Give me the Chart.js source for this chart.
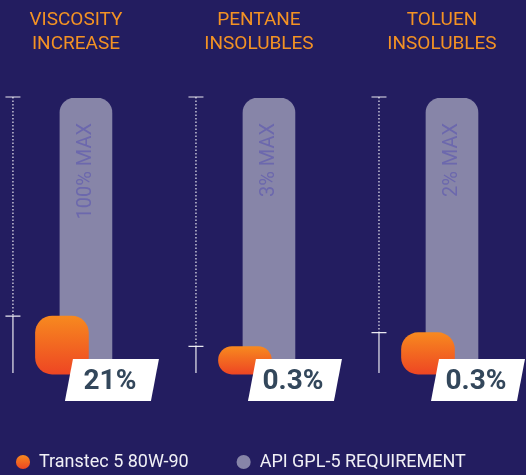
<!DOCTYPE html>
<html>
<head>
<meta charset="utf-8">
<script src="https://cdn.jsdelivr.net/npm/chart.js@4.4.1/dist/chart.umd.min.js"></script>
<style>
    html, body { margin: 0; padding: 0; background: #231d60; }
    #wrap { width: 526px; height: 475px; }
</style>
</head>
<body>
<div id="wrap"><canvas id="chart"></canvas></div>
<script>
// --- Data ---
const TITLES = [['VISCOSITY', 'INCREASE'], ['PENTANE', 'INSOLUBLES'], ['TOLUEN', 'INSOLUBLES']];
const TRANSTEC = [21, 0.3, 0.3];          // measured value, %
const API_MAX = [100, 3, 2];              // API GPL-5 limit, %
const VALUE_LABELS = ['21%', '0.3%', '0.3%'];
const MAX_LABELS = ['100% MAX', '3% MAX', '2% MAX'];
const SERIES = ['Transtec 5 80W-90', 'API GPL-5 REQUIREMENT'];

// bars are drawn as share of each limit
const transtecPct = TRANSTEC.map((v, i) => ({ x: i, y: v / API_MAX[i] * 100 }));
const limitPct = API_MAX.map((m, i) => ({ x: i, y: 100 }));

const ORANGE_TOP = '#f7891f';
const ORANGE_BOTTOM = '#ee4623';
const GREY = '#8785a8';

Chart.defaults.font.family = 'Roboto';

function orangeFill(context) {
    const chart = context.chart;
    const y = chart.scales.y;
    if (!chart.chartArea || !y || context.type !== 'data') return ORANGE_BOTTOM;
    const top = y.getPixelForValue(context.parsed.y);
    const base = y.getPixelForValue(0);
    const g = chart.ctx.createLinearGradient(0, top, 0, base);
    g.addColorStop(0, ORANGE_TOP);
    g.addColorStop(1, ORANGE_BOTTOM);
    return g;
}

// shift each dataset sideways so the two bars overlap
const shiftPlugin = {
    id: 'shift',
    beforeDatasetDraw(chart, args) {
        const dx = chart.data.datasets[args.index].shiftX || 0;
        chart.ctx.save();
        chart.ctx.translate(dx, 0);
    },
    afterDatasetDraw(chart) {
        chart.ctx.restore();
    },
};

// titles, brackets, "MAX" captions and value tags
const decorPlugin = {
    id: 'decor',
    afterDatasetsDraw(chart) {
        const { ctx, scales: { x, y } } = chart;
        const top = y.getPixelForValue(100);
        const base = y.getPixelForValue(0);
        TRANSTEC.forEach((v, i) => {
            const cx = x.getPixelForValue(i);
            const valY = y.getPixelForValue(transtecPct[i].y);

            // panel title
            ctx.save();
            ctx.fillStyle = '#f39224';
            ctx.font = '19px Roboto';
            ctx.textAlign = 'center';
            ctx.textBaseline = 'middle';
            TITLES[i].forEach((line, k) => ctx.fillText(line, cx + 2, 20 + k * 24));
            ctx.restore();

            // bracket
            const bx = cx - 61;
            ctx.save();
            ctx.strokeStyle = 'rgba(255,255,255,0.9)';
            ctx.lineWidth = 1.2;
            ctx.beginPath();
            ctx.moveTo(bx - 7.5, top - 1); ctx.lineTo(bx + 7.5, top - 1);
            ctx.moveTo(bx - 7.5, valY); ctx.lineTo(bx + 7.5, valY);
            ctx.moveTo(bx, valY); ctx.lineTo(bx, base - 1);
            ctx.stroke();
            ctx.setLineDash([1.5, 2]);
            ctx.beginPath();
            ctx.moveTo(bx, top - 1); ctx.lineTo(bx, valY);
            ctx.stroke();
            ctx.restore();

            // rotated MAX caption inside the grey bar
            ctx.save();
            ctx.translate(cx + 12, top + 25);
            ctx.rotate(-Math.PI / 2);
            ctx.fillStyle = '#6c68ad';
            ctx.font = '20px Roboto';
            ctx.textAlign = 'right';
            ctx.textBaseline = 'middle';
            ctx.fillText(MAX_LABELS[i], 0, 0);
            ctx.restore();

            // value tag
            const lx = cx + 38;
            const t = base - 15, b = base + 27;
            ctx.save();
            ctx.fillStyle = '#ffffff';
            ctx.beginPath();
            ctx.moveTo(lx - 39, t); ctx.lineTo(lx + 47, t);
            ctx.lineTo(lx + 39, b); ctx.lineTo(lx - 47, b);
            ctx.closePath();
            ctx.fill();
            ctx.fillStyle = '#33475b';
            ctx.font = 'bold 28px Roboto';
            ctx.textAlign = 'center';
            ctx.textBaseline = 'middle';
            ctx.fillText(VALUE_LABELS[i], lx - 2, base + 8);
            ctx.restore();
        });
    },
};

new Chart(document.getElementById('chart'), {
    type: 'bar',
    data: {
        datasets: [
            {
                label: SERIES[0],
                data: transtecPct,
                backgroundColor: orangeFill,
                borderRadius: 17,
                borderSkipped: false,
                barThickness: 53,
                grouped: false,
                shiftX: -12,
            },
            {
                label: SERIES[1],
                data: limitPct,
                backgroundColor: GREY,
                borderRadius: 15,
                borderSkipped: false,
                barThickness: 52,
                grouped: false,
                shiftX: 12,
            },
        ],
    },
    options: {
        responsive: true,
        maintainAspectRatio: false,
        animation: false,
        // negative sides only move the legend; the plot area stays 0..526
        layout: { autoPadding: false, padding: { left: -32, right: -10, top: 98, bottom: -6 } },
        scales: {
            x: { type: 'linear', display: false, offset: false, min: -0.404, max: 2.470 },
            y: { display: false, min: -11.2, max: 100 },
        },
        plugins: {
            tooltip: { enabled: false },
            legend: {
                position: 'bottom',
                align: 'start',
                labels: {
                    color: '#f1f1f6',
                    font: { size: 18 },
                    usePointStyle: true,
                    pointStyle: 'circle',
                    boxWidth: 14,
                    boxHeight: 10,
                    padding: 48,
                    generateLabels: (chart) => {
                        const items = Chart.defaults.plugins.legend.labels.generateLabels(chart);
                        const g = chart.ctx.createLinearGradient(0, 455, 0, 469);
                        g.addColorStop(0, ORANGE_TOP);
                        g.addColorStop(1, ORANGE_BOTTOM);
                        items[0].fillStyle = g;
                        items.forEach((it) => { it.lineWidth = 0; it.strokeStyle = 'transparent'; });
                        return items;
                    },
                },
            },
        },
    },
    plugins: [shiftPlugin, decorPlugin],
});
</script>
</body>
</html>
